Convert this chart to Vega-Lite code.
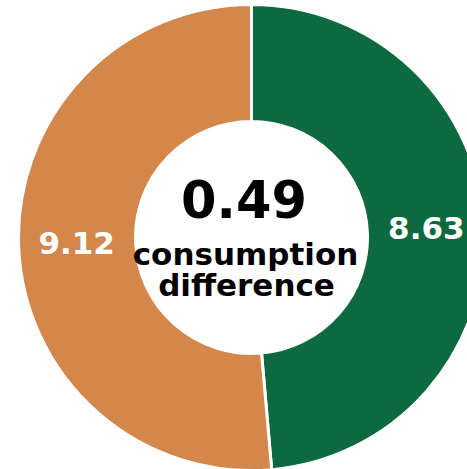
{
  "$schema": "https://vega.github.io/schema/vega-lite/v6.json",
  "width": 503,
  "height": 475,
  "autosize": "none",
  "padding": 0,
  "background": "white",
  "config": {"view": {"stroke": null}},
  "datasets": {
    "slices": [
      {"category": "A", "value": 8.63, "order": 1},
      {"category": "B", "value": 9.12, "order": 2}
    ],
    "center": [
      {"line": "0.49", "row": 1},
      {"line": "consumption", "row": 2},
      {"line": "difference", "row": 3}
    ]
  },
  "layer": [
    {
      "data": {"name": "slices"},
      "mark": {"type": "arc", "radius": 233, "radius2": 116, "stroke": "white", "strokeWidth": 3},
      "encoding": {
        "theta": {"field": "value", "type": "quantitative", "stack": true},
        "order": {"field": "order", "type": "quantitative"},
        "color": {"field": "category", "type": "nominal", "scale": {"domain": ["A", "B"], "range": ["#0c6a3e", "#d4874b"]}, "legend": null}
      }
    },
    {
      "data": {"name": "slices"},
      "mark": {"type": "text", "radius": 175, "font": "DejaVu Sans", "fontWeight": "bold", "fontSize": 31, "fill": "white", "baseline": "middle", "align": "center"},
      "encoding": {
        "theta": {"field": "value", "type": "quantitative", "stack": true},
        "order": {"field": "order", "type": "quantitative"},
        "text": {"field": "value", "type": "quantitative", "format": ".2f"}
      }
    },
    {
      "data": {"name": "center"},
      "transform": [{"filter": "datum.row == 1"}],
      "mark": {"type": "text", "font": "DejaVu Sans", "fontWeight": "bold", "fontSize": 51, "fill": "black", "baseline": "alphabetic", "align": "center", "dx": -7.5, "dy": -19.5},
      "encoding": {"text": {"field": "line", "type": "nominal"}}
    },
    {
      "data": {"name": "center"},
      "transform": [{"filter": "datum.row == 2"}],
      "mark": {"type": "text", "font": "DejaVu Sans", "fontWeight": "bold", "fontSize": 31, "fill": "black", "baseline": "alphabetic", "align": "center", "dx": -6, "dy": 27.5},
      "encoding": {"text": {"field": "line", "type": "nominal"}}
    },
    {
      "data": {"name": "center"},
      "transform": [{"filter": "datum.row == 3"}],
      "mark": {"type": "text", "font": "DejaVu Sans", "fontWeight": "bold", "fontSize": 31, "fill": "black", "baseline": "alphabetic", "align": "center", "dx": -5, "dy": 58.5},
      "encoding": {"text": {"field": "line", "type": "nominal"}}
    }
  ]
}
